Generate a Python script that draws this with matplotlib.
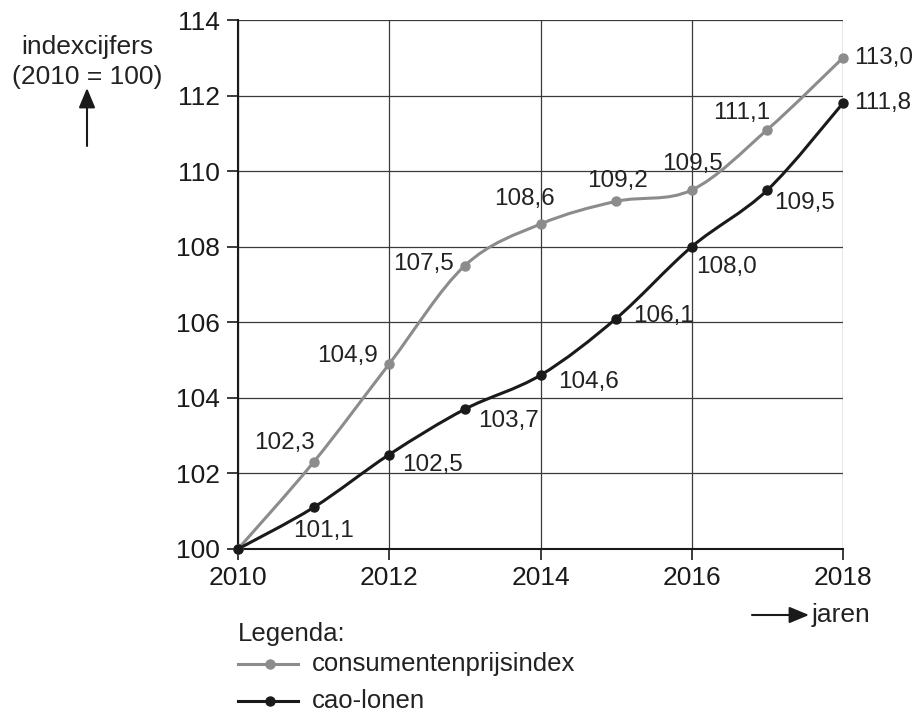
import matplotlib
matplotlib.use("Agg")
import matplotlib.pyplot as plt
from matplotlib.path import Path
from matplotlib.patches import PathPatch, FancyArrowPatch
from matplotlib.lines import Line2D

plt.rcParams['font.family'] = ['Liberation Sans', 'DejaVu Sans']

jaren = [2010, 2011, 2012, 2013, 2014, 2015, 2016, 2017, 2018]
cpi = [100.0, 102.3, 104.9, 107.5, 108.6, 109.2, 109.5, 111.1, 113.0]
cao = [100.0, 101.1, 102.5, 103.7, 104.6, 106.1, 108.0, 109.5, 111.8]

# label offsets in pixels (dx, dy), per point; None = no label
cpi_offsets = [None, (-29, 19), (-42, 8), (-41, 2), (-16, 25), (1, 20), (1, 26), (-26, 17), None]
cao_offsets = [None, (10, -24), (43, -10), (44, -12), (48, -7), (47, 3), (35, -20), (37, -13), None]
grijs = "#8c8c8c"
zwart = "#1a1a1a"
tekst = "#222222"


def smooth_path(xs, ys):
    pts = list(zip(xs, ys))
    n = len(pts)
    verts = [pts[0]]
    codes = [Path.MOVETO]
    for i in range(n - 1):
        p0 = pts[max(i - 1, 0)]
        p1 = pts[i]
        p2 = pts[i + 1]
        p3 = pts[min(i + 2, n - 1)]
        c1 = (p1[0] + (p2[0] - p0[0]) / 6, p1[1] + (p2[1] - p0[1]) / 6)
        c2 = (p2[0] - (p3[0] - p1[0]) / 6, p2[1] - (p3[1] - p1[1]) / 6)
        verts += [c1, c2, p2]
        codes += [Path.CURVE4] * 3
    return Path(verts, codes)


def fmt(v):
    return f"{v:.1f}".replace(".", ",")


fig = plt.figure(figsize=(9.15, 7.15), dpi=100)
ax = fig.add_axes([238 / 915, 1 - 549 / 715, 605 / 915, 529 / 715])

for serie, kleur in [(cpi, grijs), (cao, zwart)]:
    ax.add_patch(PathPatch(smooth_path(jaren, serie), fill=False, edgecolor=kleur, lw=2.2, zorder=3,
                           clip_on=False))
    ax.plot(jaren, serie, 'o', color=kleur, markersize=6.5, zorder=4, clip_on=False)

for serie, offs in [(cpi, cpi_offsets), (cao, cao_offsets)]:
    for x, y, off in zip(jaren, serie, offs):
        if off is None:
            continue
        ax.annotate(fmt(y), (x, y), xytext=(off[0] * 0.72, off[1] * 0.72),
                    textcoords="offset points", ha="center", va="center", fontsize=17.5, color=tekst)

# eindwaarden rechts
for serie in [cpi, cao]:
    ax.annotate(fmt(serie[-1]), (jaren[-1], serie[-1]), xytext=(8, 0),
                textcoords="offset points", ha="left", va="center", fontsize=17.5, color=tekst,
                annotation_clip=False)

ax.set_xlim(2010, 2018)
ax.set_ylim(100, 114)
ax.set_xticks(range(2010, 2019, 2))
ax.set_yticks(range(100, 115, 2))
ax.grid(True, color="#3a3a3a", lw=0.9)
ax.set_axisbelow(True)
for s in ["top", "right"]:
    ax.spines[s].set_visible(False)
for s in ["left", "bottom"]:
    ax.spines[s].set_linewidth(1.5)
    ax.spines[s].set_color(zwart)
ax.tick_params(direction="out", length=8, width=1.2, labelsize=19, colors=zwart, pad=5)
ax.tick_params(axis="x", pad=4)

pijl = dict(arrowstyle="-|>,head_length=1.2,head_width=0.5", mutation_scale=10,
            color=zwart, lw=1.5, shrinkA=0, shrinkB=0)

# y-as titel
fig.text(87 / 915, 1 - 47 / 715, "indexcijfers", ha="center", va="center", fontsize=19, color=tekst)
fig.text(87 / 915, 1 - 77 / 715, "(2010 = 100)", ha="center", va="center", fontsize=19, color=tekst)
fig.add_artist(FancyArrowPatch((87 / 915, 1 - 146 / 715), (87 / 915, 1 - 88 / 715),
                               transform=fig.transFigure, **pijl))

# x-as titel
fig.text(812 / 915, 1 - 615 / 715, "jaren", ha="left", va="center", fontsize=19, color=tekst)
fig.add_artist(FancyArrowPatch((752 / 915, 1 - 615 / 715), (809 / 915, 1 - 615 / 715),
                               transform=fig.transFigure, **pijl))

# legenda
fig.text(238 / 915, 1 - 634 / 715, "Legenda:", ha="left", va="center", fontsize=18.5, color=tekst)
for yy, kleur, naam in [(664, grijs, "consumentenprijsindex"), (701, zwart, "cao-lonen")]:
    fig.add_artist(Line2D([238 / 915, 298 / 915], [1 - yy / 715, 1 - yy / 715],
                          color=kleur, lw=2.2, transform=fig.transFigure))
    fig.add_artist(Line2D([270 / 915], [1 - yy / 715], marker="o", markersize=6.5,
                          color=kleur, transform=fig.transFigure))
    fig.text(312 / 915, 1 - yy / 715, naam, ha="left", va="center", fontsize=18.5, color=tekst)

fig.savefig("out.png", dpi=100)
